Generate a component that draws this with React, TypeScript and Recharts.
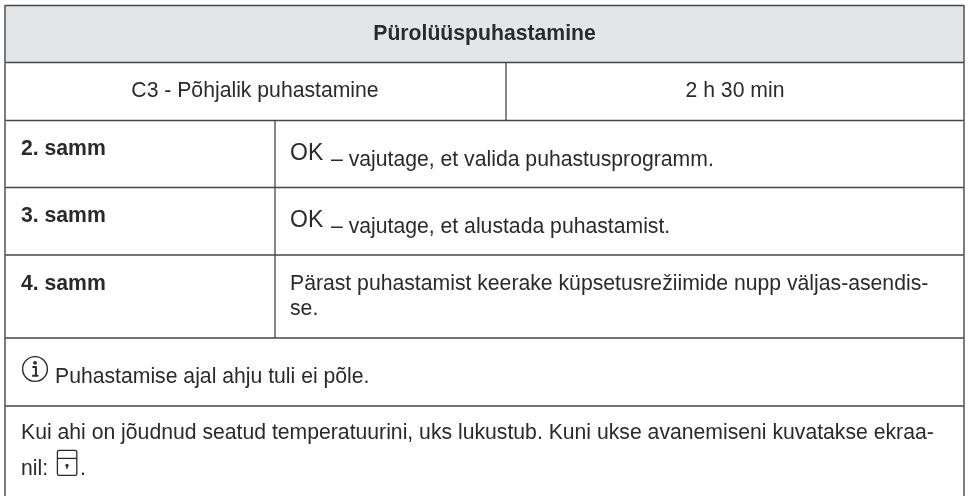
import React from "react";
import { ComposedChart, XAxis, YAxis, ReferenceArea, ReferenceLine, Scatter } from "recharts";

const W = 969;
const H = 496;
const title = "Pürolüüspuhastamine";
const programme = "C3 - Põhjalik puhastamine";
const duration = "2 h 30 min";
const stepLabels = ["2. samm", "3. samm", "4. samm"];
const okWord = "OK";
const okTexts = ["– vajutage, et valida puhastusprogramm.", "– vajutage, et alustada puhastamist."];
const step4Lines = ["Pärast puhastamist keerake küpsetusrežiimide nupp väljas-asendis-", "se."];
const infoNote = "Puhastamise ajal ahju tuli ei põle.";
const closingLines = ["Kui ahi on jõudnud seatud temperatuurini, uks lukustub. Kuni ukse avanemiseni kuvatakse ekraa-", "nil: "];
const closingEnd = ".";

const INK = "#2a2a2a";
const RULE = "#464646";
const FONT = "'Liberation Sans', Arial, sans-serif";
const SIZE = 21.2;

const hLines = [62.5, 120.5, 187.5, 255, 338, 406];
const labels = [
  { x: 484.5, y: 40, t: title, bold: true, anchor: "middle" },
  { x: 255, y: 97, t: programme, anchor: "middle" },
  { x: 735, y: 97, t: duration, anchor: "middle" },
  { x: 21, y: 155, t: stepLabels[0], bold: true },
  { x: 21, y: 222, t: stepLabels[1], bold: true },
  { x: 21, y: 290, t: stepLabels[2], bold: true },
  { x: 290, y: 160, t: okWord, size: 23 },
  { x: 290, y: 227, t: okWord, size: 23 },
  { x: 331, y: 165.5, t: okTexts[0] },
  { x: 331, y: 233, t: okTexts[1] },
  { x: 290, y: 290, t: step4Lines[0] },
  { x: 290, y: 315, t: step4Lines[1] },
  { x: 55, y: 383, t: infoNote },
  { x: 21, y: 439, t: closingLines[0] },
  { x: 21, y: 475, t: closingLines[1] },
  { x: 80, y: 475, t: closingEnd },
];
const icons = [
  { x: 35, y: 369, kind: "info" },
  { x: 67, y: 463, kind: "door" },
];

const LabelShape = (p: any) => (
  <text
    x={p.cx}
    y={p.cy}
    fontFamily={FONT}
    fontSize={p.payload.size ?? SIZE}
    fontWeight={p.payload.bold ? 700 : 400}
    fill={INK}
    textAnchor={p.payload.anchor ?? "start"}
  >
    {p.payload.t}
  </text>
);

const IconShape = (p: any) => {
  const { cx, cy } = p;
  if (p.payload.kind === "info") {
    return (
      <g stroke={INK} fill="none">
        <circle cx={cx} cy={cy} r={12.4} strokeWidth={1.4} />
        <circle cx={cx} cy={cy - 6.2} r={1.9} fill={INK} stroke="none" />
        <path d={`M${cx - 2.6} ${cy - 2}H${cx + 0.9}V${cy + 6.5}M${cx - 2.8} ${cy + 6.8}H${cx + 3.4}`} strokeWidth={2} />
      </g>
    );
  }
  return (
    <g stroke={INK} fill="none" strokeWidth={1.3}>
      <rect x={cx - 9.6} y={cy - 12.6} width={19.4} height={25} rx={1.6} />
      <path d={`M${cx - 9.6} ${cy - 4.6}H${cx + 9.8}`} />
      <circle cx={cx} cy={cy + 2.4} r={1.6} fill={INK} stroke="none" />
      <path d={`M${cx} ${cy + 2.4}V${cy + 6}`} />
    </g>
  );
};

export default function App() {
  return (
    <div style={{ position: "absolute", left: 0, top: 0, width: W, height: H, background: "#fff", filter: "blur(0.4px)" }}>
      <ComposedChart width={W} height={H} margin={{ top: 0, right: 0, bottom: 0, left: 0 }} data={[]}>
        <XAxis type="number" dataKey="x" domain={[0, W]} hide />
        <YAxis type="number" dataKey="y" domain={[0, H]} reversed hide />
        <ReferenceArea x1={5} x2={964} y1={5} y2={62} fill="#e4e5e6" fillOpacity={1} stroke="none" ifOverflow="visible" />
        {hLines.map((y) => (
          <ReferenceLine key={y} segment={[{ x: 5, y }, { x: 964, y }]} stroke={RULE} strokeWidth={1.5} ifOverflow="visible" />
        ))}
        <ReferenceLine segment={[{ x: 5, y: 5.5 }, { x: 964, y: 5.5 }]} stroke={RULE} strokeWidth={1.5} ifOverflow="visible" />
        <ReferenceLine segment={[{ x: 5, y: 5 }, { x: 5, y: H }]} stroke="#5c5c5c" strokeWidth={1.6} ifOverflow="visible" />
        <ReferenceLine segment={[{ x: 964, y: 5 }, { x: 964, y: H }]} stroke="#5c5c5c" strokeWidth={1.6} ifOverflow="visible" />
        <ReferenceLine segment={[{ x: 506, y: 62 }, { x: 506, y: 120 }]} stroke={RULE} strokeWidth={1.3} ifOverflow="visible" />
        <ReferenceLine segment={[{ x: 275, y: 120 }, { x: 275, y: 338 }]} stroke={RULE} strokeWidth={1.3} ifOverflow="visible" />
        <Scatter data={labels} dataKey="y" shape={LabelShape} isAnimationActive={false} />
        <Scatter data={icons} dataKey="y" shape={IconShape} isAnimationActive={false} />
      </ComposedChart>
    </div>
  );
}
